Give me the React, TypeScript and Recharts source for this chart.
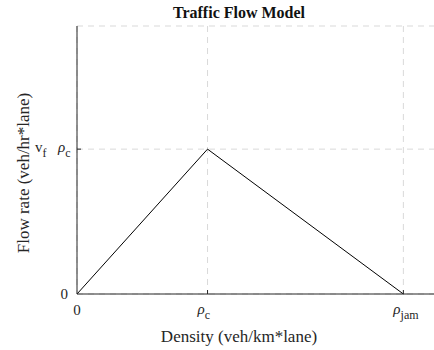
import React from 'react';
import { LineChart, Line, XAxis, YAxis, CartesianGrid, Label } from 'recharts';

const densityPoints = [0, 0.4, 1.0];
const flowPoints = [0, 1, 0];
const xTickValues = [0, 0.4, 1.0];
const xTickLabels = [{ main: '0', sub: '' }, { main: 'ρ', sub: 'c' }, { main: 'ρ', sub: 'jam' }];
const yTickValues = [0, 1];

const data = densityPoints.map((d, i) => ({ density: d, flow: flowPoints[i] }));

const FONT = '"Liberation Serif", "DejaVu Serif", serif';
const INK = '#262626';

const XTick = (props: any) => {
  const { x, y, payload } = props;
  const idx = xTickValues.indexOf(payload.value);
  const lbl = xTickLabels[idx] || { main: String(payload.value), sub: '' };
  if (!lbl.sub) {
    return (
      <text x={x} y={y + 21} textAnchor="middle" fontFamily={FONT} fontSize={15} fill={INK}>{lbl.main}</text>
    );
  }
  return (
    <g>
      <line x1={x} y1={y} x2={x} y2={y - 4} stroke={INK} strokeWidth={1} />
      <text x={x - 10} y={y + 20} textAnchor="start" fontFamily={FONT} fontSize={15} fill={INK}>
        <tspan fontStyle="italic">{lbl.main}</tspan>
        <tspan fontSize={12} dy={5}>{lbl.sub}</tspan>
      </text>
    </g>
  );
};

const TopTick = (props: any) => {
  const { x, y, payload } = props;
  if (payload.value === 0) return null;
  return <line x1={x} y1={y} x2={x} y2={y + 4} stroke={INK} strokeWidth={1} />;
};

const YTick = (props: any) => {
  const { x, y, payload } = props;
  const idx = yTickValues.indexOf(payload.value);
  if (idx === 0) {
    return (
      <text x={x - 9} y={y + 5} textAnchor="end" fontFamily={FONT} fontSize={15} fill={INK}>0</text>
    );
  }
  return (
    <g>
      <line x1={x} y1={y} x2={x + 4} y2={y} stroke={INK} strokeWidth={1} />
      <text x={x - 42} y={y + 3} textAnchor="start" fontFamily={FONT} fontSize={15} fill={INK}>
        <tspan>v</tspan>
        <tspan fontSize={12} dy={5}>f</tspan>
      </text>
      <text x={x - 19} y={y + 3} textAnchor="start" fontFamily={FONT} fontSize={15} fill={INK}>
        <tspan fontStyle="italic">ρ</tspan>
        <tspan fontSize={12} dy={5}>c</tspan>
      </text>
    </g>
  );
};

const XLabel = (props: any) => {
  const { viewBox } = props;
  return (
    <text x={viewBox.x + 162} y={viewBox.y + 48} textAnchor="middle" fontFamily={FONT} fontSize={17} fill={INK}>
      Density (veh/km*lane)
    </text>
  );
};

const YLabel = (props: any) => {
  const { viewBox } = props;
  const cx = viewBox.x + 29;
  const cy = viewBox.y + 147;
  return (
    <text x={cx} y={cy} transform={`rotate(-90, ${cx}, ${cy})`} textAnchor="middle" fontFamily={FONT} fontSize={17} fill={INK}>
      Flow rate (veh/hr*lane)
    </text>
  );
};

export default function App() {
  return (
    <div style={{ position: 'absolute', left: 0, top: 0, width: 434, height: 350, background: '#fff' }}>
      <LineChart width={434} height={350} data={data} margin={{ top: 26, right: -2, bottom: 0, left: 0 }}>
        <text x={239} y={18} textAnchor="middle" fontFamily={FONT} fontWeight="bold" fontSize={16} fill="#111">Traffic Flow Model</text>
        <CartesianGrid stroke="#d9d9d9" strokeDasharray="6 5" />
        <XAxis
          dataKey="density"
          type="number"
          domain={[0, 1.1]}
          ticks={xTickValues}
          tickSize={0}
          tickMargin={0}
          height={56}
          axisLine={{ stroke: INK }}
          tickLine={false}
          tick={<XTick />}
          interval={0}
        >
          <Label content={<XLabel />} />
        </XAxis>
        <XAxis
          xAxisId="top"
          orientation="top"
          dataKey="density"
          type="number"
          domain={[0, 1.1]}
          ticks={xTickValues}
          tickSize={0}
          tickMargin={0}
          height={0}
          axisLine={{ stroke: '#555' }}
          tickLine={false}
          tick={<TopTick />}
          interval={0}
        />
        <YAxis
          type="number"
          domain={[0, 1.85]}
          ticks={yTickValues}
          tickSize={0}
          tickMargin={0}
          width={77}
          axisLine={{ stroke: INK }}
          tickLine={false}
          tick={<YTick />}
          interval={0}
        >
          <Label content={<YLabel />} />
        </YAxis>
        <Line type="linear" dataKey="flow" stroke="#000" strokeWidth={1} dot={false} isAnimationActive={false} />
      </LineChart>
    </div>
  );
}
